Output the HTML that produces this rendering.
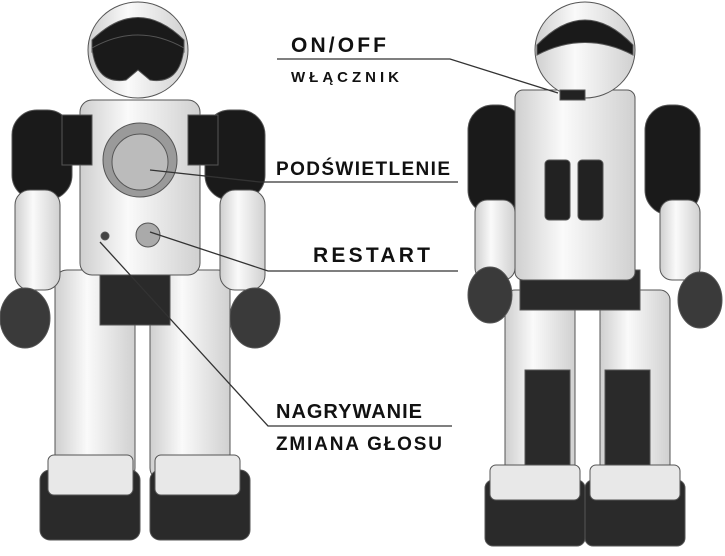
<!DOCTYPE html>
<html><head><meta charset="utf-8"><style>
html,body{margin:0;padding:0;background:#fff;width:725px;height:556px;overflow:hidden}
svg{display:block}
text{font-family:"Liberation Sans",sans-serif;font-weight:bold;fill:#111}
</style></head><body>
<svg width="725" height="556" viewBox="0 0 725 556">
<defs>
<linearGradient id="w" x1="0" x2="1"><stop offset="0" stop-color="#cfcfcf"/><stop offset=".4" stop-color="#fafafa"/><stop offset="1" stop-color="#d0d0d0"/></linearGradient>
</defs>
<!-- LEFT ROBOT -->
<g stroke="#555" stroke-width="1">
<rect x="55" y="270" width="80" height="210" rx="12" fill="url(#w)"/>
<rect x="150" y="270" width="80" height="210" rx="12" fill="url(#w)"/>
<rect x="40" y="470" width="100" height="70" rx="10" fill="#2a2a2a"/>
<rect x="150" y="470" width="100" height="70" rx="10" fill="#2a2a2a"/>
<rect x="48" y="455" width="85" height="40" rx="6" fill="#e8e8e8"/>
<rect x="155" y="455" width="85" height="40" rx="6" fill="#e8e8e8"/>
<rect x="100" y="265" width="70" height="60" fill="#2a2a2a"/>
<rect x="12" y="110" width="60" height="90" rx="25" fill="#1a1a1a"/>
<rect x="205" y="110" width="60" height="90" rx="25" fill="#1a1a1a"/>
<rect x="15" y="190" width="45" height="100" rx="15" fill="url(#w)"/>
<rect x="220" y="190" width="45" height="100" rx="15" fill="url(#w)"/>
<ellipse cx="25" cy="318" rx="25" ry="30" fill="#3a3a3a"/>
<ellipse cx="255" cy="318" rx="25" ry="30" fill="#3a3a3a"/>
<rect x="80" y="100" width="120" height="175" rx="12" fill="url(#w)"/>
<rect x="62" y="115" width="30" height="50" fill="#1a1a1a"/>
<rect x="188" y="115" width="30" height="50" fill="#1a1a1a"/>
<circle cx="140" cy="160" r="37" fill="#9a9a9a"/>
<circle cx="140" cy="162" r="28" fill="#bbb"/>
<circle cx="148" cy="235" r="12" fill="#aaa"/>
<circle cx="105" cy="236" r="4" fill="#444"/>
<ellipse cx="138" cy="50" rx="50" ry="48" fill="url(#w)"/>
<path d="M92 40 Q138 -5 184 40 L184 52 Q138 25 92 52Z" fill="#1a1a1a"/>
<path d="M92 48 Q138 22 184 48 Q180 85 150 80 L138 70 L126 80 Q96 85 92 48Z" fill="#1a1a1a"/>
</g>
<!-- RIGHT ROBOT -->
<g stroke="#555" stroke-width="1">
<rect x="505" y="290" width="70" height="200" rx="10" fill="url(#w)"/>
<rect x="600" y="290" width="70" height="200" rx="10" fill="url(#w)"/>
<rect x="525" y="370" width="45" height="100" fill="#2a2a2a"/>
<rect x="605" y="370" width="45" height="100" fill="#2a2a2a"/>
<rect x="485" y="480" width="100" height="66" rx="8" fill="#2a2a2a"/>
<rect x="585" y="480" width="100" height="66" rx="8" fill="#2a2a2a"/>
<rect x="490" y="465" width="90" height="35" rx="6" fill="#e8e8e8"/>
<rect x="590" y="465" width="90" height="35" rx="6" fill="#e8e8e8"/>
<rect x="520" y="270" width="120" height="40" fill="#2a2a2a"/>
<rect x="468" y="105" width="55" height="110" rx="25" fill="#1a1a1a"/>
<rect x="645" y="105" width="55" height="110" rx="25" fill="#1a1a1a"/>
<rect x="475" y="200" width="40" height="80" rx="12" fill="url(#w)"/>
<rect x="660" y="200" width="40" height="80" rx="12" fill="url(#w)"/>
<ellipse cx="490" cy="295" rx="22" ry="28" fill="#3a3a3a"/>
<ellipse cx="700" cy="300" rx="22" ry="28" fill="#3a3a3a"/>
<rect x="515" y="90" width="120" height="190" rx="8" fill="url(#w)"/>
<rect x="545" y="160" width="25" height="60" rx="4" fill="#222"/>
<rect x="578" y="160" width="25" height="60" rx="4" fill="#222"/>
<ellipse cx="585" cy="50" rx="50" ry="48" fill="url(#w)"/>
<path d="M537 45 Q585 -5 633 45 L633 55 Q585 30 537 55Z" fill="#1a1a1a"/>
<rect x="560" y="90" width="25" height="10" fill="#222"/>
</g>
<g stroke="#333" stroke-width="1.3" fill="none">
<polyline points="277,59 450,59 558,93"/>
<polyline points="150,170 260,182 458,182"/>
<polyline points="150,232 268,271 458,271"/>
<polyline points="100,242 268,426 452,426"/>
</g>
<text x="291" y="52" font-size="21" textLength="95">ON/OFF</text>
<text x="291" y="82" font-size="15" textLength="108">WŁĄCZNIK</text>
<text x="276" y="175" font-size="19" textLength="174">PODŚWIETLENIE</text>
<text x="313" y="262" font-size="21" textLength="117">RESTART</text>
<text x="276" y="418" font-size="20" textLength="146">NAGRYWANIE</text>
<text x="276" y="450" font-size="19" textLength="166">ZMIANA GŁOSU</text>
</svg>
</body></html>
